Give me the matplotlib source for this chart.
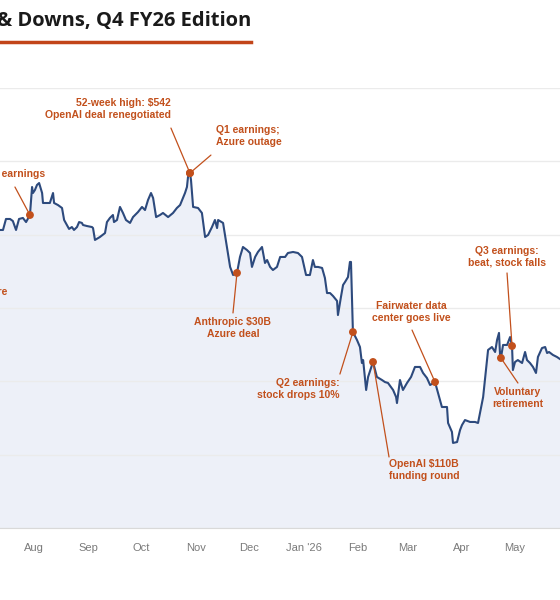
import numpy as np
import matplotlib.pyplot as plt
from matplotlib.lines import Line2D

plt.rcParams['font.family'] = ['Liberation Sans', 'DejaVu Sans']

# days counted from 1 Aug 2025, closing price in $
days = [-32.9, -29.1, -24.9, -19.3, -17.6, -15.9, -13.6, -12.0, -10.2, -8.5, -6.3, -4.5, -2.3,
        -1.1, -0.6, 0.5, 1.7, 2.9, 4.6, 5.1, 9.0, 10.8, 11.4, 13.6, 15.9, 17.1, 18.7, 19.9,
        21.5, 22.7, 24.4, 25.6, 27.2, 27.8, 30.0, 32.9, 33.5, 34.6, 37.4, 40.3, 41.4, 43.1,
        44.8, 45.4, 47.1, 48.8, 50.5, 52.2, 54.5, 56.2, 59.0, 61.3, 63.0, 64.7, 66.4, 67.6,
        69.3, 71.5, 73.2, 76.1, 78.9, 81.1, 82.9, 85.7, 86.8, 87.4, 88.5, 89.1, 90.3, 93.1,
        95.3, 97.1, 98.8, 101.0, 102.7, 103.9, 104.5, 107.3, 109.5, 111.3, 113.0, 115.2,
        116.9, 118.6, 120.9, 122.6, 123.7, 125.5, 127.1, 129.4, 131.1, 132.3, 134.0, 135.6,
        137.9, 139.7, 142.5, 144.1, 147.0, 149.8, 152.1, 154.4, 156.6, 158.3, 159.4, 161.2,
        163.5, 165.1, 166.3, 168.0, 169.7, 172.0, 172.5, 174.2, 175.4, 176.5, 178.2, 179.3,
        179.9, 181.0, 183.3, 185.0, 186.1, 186.8, 188.5, 189.6, 192.4, 194.6, 197.5, 199.2,
        200.9, 202.6, 203.8, 205.5, 206.0, 207.7, 209.4, 211.7, 214.0, 216.2, 219.1, 220.8,
        223.0, 224.8, 227.6, 229.3, 231.5, 234.4, 235.0, 237.2, 237.8, 240.1, 241.8, 242.9,
        244.6, 247.5, 250.3, 252.0, 253.1, 254.9, 257.1, 257.7, 259.9, 261.7, 262.8, 263.9,
        264.5, 265.0, 266.2, 268.5, 270.2, 271.3, 271.8, 273.0, 274.6, 277.0, 278.7, 279.8,
        281.5, 283.2, 284.9, 286.0, 288.3, 290.1, 291.2, 292.3, 294.5, 296.8, 298.5, 300.4]
price = [497.0, 499.0, 501.8, 503.2, 503.2, 510.7, 510.7, 509.3, 503.2, 510.7, 511.4, 508.6, 513.4,
         532.5, 528.4, 530.4, 533.9, 535.2, 528.4, 521.6, 521.6, 528.4, 521.6, 520.2, 518.2, 510.0, 506.6, 503.9,
         505.2, 503.2, 505.2, 508.6, 508.0, 506.6, 505.9, 505.2, 504.5, 496.4, 498.4, 501.1, 508.6, 511.4,
         513.4, 508.6, 510.0, 518.9, 514.8, 510.0, 508.0, 512.0, 515.4, 518.9, 516.8, 523.6, 528.4, 525.0,
         512.0, 513.4, 514.8, 512.0, 514.8, 518.2, 520.2, 528.4, 532.5, 539.3, 542.0, 537.3, 518.9, 518.2,
         514.8, 498.4, 499.8, 505.2, 510.0, 504.5, 510.0, 508.0, 491.6, 478.0, 472.5, 473.9,
         484.8, 491.6, 489.5, 487.5, 478.0, 484.8, 488.2, 491.6, 480.7, 482.7, 478.0, 475.9,
         478.0, 484.8, 484.8, 487.5, 488.2, 487.5, 484.8, 472.5, 472.5, 482.7, 478.0, 478.0,
         477.3, 470.5, 460.2, 460.2, 458.2, 454.8, 445.2, 457.5, 465.7, 467.7, 471.1, 481.4,
         481.4, 433.6, 428.2, 423.4, 412.5, 414.5, 394.1, 403.0, 413.2, 403.0, 400.9, 399.5,
         398.9, 396.1, 394.1, 389.3, 385.2, 400.9, 394.1, 398.9, 403.0, 409.8, 409.8, 405.7,
         402.3, 397.5, 399.5, 392.0, 382.5, 382.5, 371.6, 365.5, 358.0, 358.6, 366.8, 370.2,
         373.6, 372.3, 372.3, 371.6, 378.4, 389.3, 414.5, 421.4, 423.4, 420.0, 428.2, 433.0,
         418.0, 415.9, 424.8, 424.8, 430.2, 424.1, 407.7, 413.2, 414.5, 412.5, 420.0, 414.5,
         412.5, 409.8, 405.7, 416.6, 422.7, 423.4, 419.3, 420.0, 418.0, 416.6, 415.2, 414.0]

month_days = [0, 31, 61, 92, 122, 153, 184, 212, 243, 273]
month_labels = ['Aug', 'Sep', 'Oct', 'Nov', 'Dec', "Jan '26", 'Feb', 'Mar', 'Apr', 'May']

event_labels = ['Layoffs;\nAI restructure',
                'Q4 earnings',
                '52-week high: $542\nOpenAI deal renegotiated',
                'Q1 earnings;\nAzure outage',
                'Anthropic $30B\nAzure deal',
                'Q2 earnings:\nstock drops 10%',
                'OpenAI $110B\nfunding round',
                'Fairwater data\ncenter goes live',
                'Voluntary\nretirement',
                'Q3 earnings:\nbeat, stock falls']
event_days = [-29.1, -2.3, 88.5, 88.5, 115.2, 181.0, 192.4, 227.6, 265.0, 271.3]
# label anchor and leader-line start, as pixel offsets from the marker
label_offsets = [(-10, -50), (-15, 41), (-19, 64), (26, 37), (-4, -55),
                 (-13, -57), (16, -108), (-24, 70), (17, -40), (-5, 89)]
label_align = ['center', 'center', 'right', 'left', 'center',
               'right', 'left', 'center', 'center', 'center']
leader_starts = [(-10, -36), (-15, 28), (-19, 45), (21, 18), (-4, -40),
                 (-13, -42), (16, -95), (-23, 52), (17, -25), (-5, 73)]

NAVY = '#2d4a7d'
ORANGE = '#c2501c'

fig = plt.figure(figsize=(5.6, 6), dpi=100)
# plot area is wider than the picture: the crop cuts off both sides
x0_px, px_per_day = 34, 1.762
xmin, xmax = -35, 305
left_px = x0_px + xmin * px_per_day
right_px = x0_px + xmax * px_per_day
ax = fig.add_axes([left_px / 560, 72 / 600, (right_px - left_px) / 560, 440 / 600])

ax.fill_between(days, price, 300, color='#edf0f8', lw=0, zorder=1)
ax.plot(days, price, color=NAVY, lw=1.5, zorder=3)

ax.set_xlim(xmin, xmax)
ax.set_ylim(300, 600)
ax.set_yticks(np.arange(300, 601, 50))
ax.set_yticklabels([])
ax.set_xticks(month_days)
ax.set_xticklabels(month_labels)
ax.tick_params(axis='x', length=0, pad=11, labelsize=8, labelcolor='#7a7a7a')
ax.tick_params(axis='y', length=0)
ax.grid(axis='y', color='#ebebeb', lw=1, zorder=0)
for side in ['top', 'left', 'right']:
    ax.spines[side].set_visible(False)
ax.spines['bottom'].set_color('#d9d9d9')

ev_price = np.interp(event_days, days, price)
ax.scatter(event_days, ev_price, s=32, color=ORANGE, zorder=5, edgecolor='none')
for lab, d, p, off, ha, st in zip(event_labels, event_days, ev_price,
                                  label_offsets, label_align, leader_starts):
    ax.annotate('', xy=(d, p), xytext=st, textcoords='offset pixels',
                arrowprops=dict(arrowstyle='-', color=ORANGE, lw=0.9, shrinkA=0, shrinkB=0),
                zorder=4)
    ax.annotate(lab, xy=(d, p), xytext=off, textcoords='offset pixels',
                ha=ha, multialignment=ha, va='center', fontsize=7.5, fontweight='bold',
                color=ORANGE, linespacing=1.25, zorder=6)

fig.text(251 / 560, 1 - 21 / 600, "Microsoft Stock: Ups & Downs, Q4 FY26 Edition",
         ha='right', va='center', fontsize=14.5, fontweight='bold', color='#1a1a1a',
         family=['Open Sans', 'DejaVu Sans'])
fig.add_artist(Line2D([-0.2, 251 / 560], [1 - 41.5 / 600] * 2, color='#c2451a', lw=2.5,
                      transform=fig.transFigure))

fig.savefig('out.png', dpi=100)
